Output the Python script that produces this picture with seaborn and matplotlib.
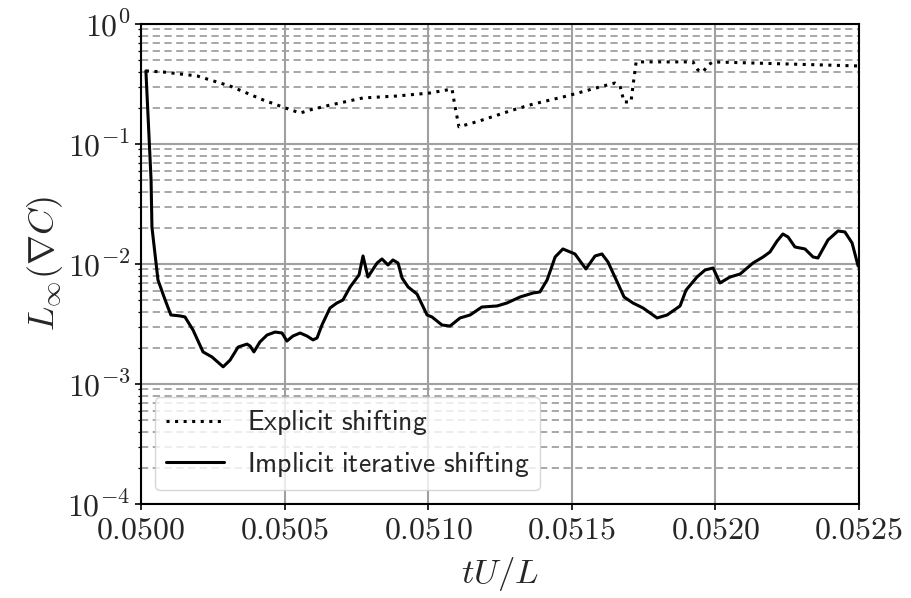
import numpy as np
import pandas as pd
import matplotlib
matplotlib.use("Agg")
import matplotlib.pyplot as plt
import seaborn as sns
from matplotlib.ticker import LogLocator, NullFormatter, FixedLocator

# Explicit shifting: max gradient norm vs. time
t_explicit = [0.050017, 0.050077, 0.050195, 0.050310, 0.050425, 0.050494, 0.050554,
              0.050588, 0.050658, 0.050773, 0.050891, 0.051006, 0.051083, 0.051093,
              0.051107, 0.051180, 0.051295, 0.051365, 0.051483, 0.051598, 0.051650,
              0.051668, 0.051682, 0.051706, 0.051713, 0.051724, 0.051922, 0.051939,
              0.051957, 0.051974, 0.051992, 0.052497, 0.052500]
linf_explicit = [0.406, 0.398, 0.369, 0.304, 0.233, 0.203, 0.181,
                 0.192, 0.211, 0.242, 0.251, 0.266, 0.287, 0.207,
                 0.139, 0.156, 0.192, 0.215, 0.251, 0.299, 0.322,
                 0.304, 0.224, 0.224, 0.304, 0.483, 0.483, 0.414,
                 0.398, 0.455, 0.483, 0.447, 0.447]

# Implicit iterative shifting
t_implicit = [0.050017, 0.050035, 0.050038, 0.050059, 0.050084, 0.050104, 0.050136,
              0.050153, 0.050181, 0.050216, 0.050247, 0.050286, 0.050310, 0.050338,
              0.050369, 0.050380, 0.050393, 0.050414, 0.050439, 0.050467, 0.050491,
              0.050508, 0.050529, 0.050554, 0.050578, 0.050599, 0.050613, 0.050630,
              0.050658, 0.050682, 0.050703, 0.050728, 0.050759, 0.050773, 0.050790,
              0.050822, 0.050839, 0.050860, 0.050877, 0.050895, 0.050909, 0.050930,
              0.050961, 0.050996, 0.051013, 0.051048, 0.051076, 0.051111, 0.051146,
              0.051187, 0.051240, 0.051274, 0.051320, 0.051365, 0.051389, 0.051414,
              0.051442, 0.051469, 0.051511, 0.051549, 0.051581, 0.051605, 0.051626,
              0.051650, 0.051682, 0.051713, 0.051748, 0.051797, 0.051832, 0.051877,
              0.051898, 0.051936, 0.051964, 0.051992, 0.052016, 0.052051, 0.052086,
              0.052131, 0.052166, 0.052190, 0.052215, 0.052235, 0.052253, 0.052277,
              0.052312, 0.052340, 0.052357, 0.052392, 0.052427, 0.052451, 0.052476,
              0.052497]
linf_implicit = [0.406, 0.0501, 0.0203, 0.00736, 0.00501, 0.00376, 0.00369,
                 0.00362, 0.00282, 0.00185, 0.00168, 0.00139, 0.00158, 0.00203,
                 0.00215, 0.00207, 0.00185, 0.00224, 0.00256, 0.00271, 0.00266,
                 0.00228, 0.00251, 0.00266, 0.00251, 0.00233, 0.00242, 0.00310,
                 0.00430, 0.00473, 0.00501, 0.00643, 0.00810, 0.01166, 0.00779,
                 0.01019, 0.01101, 0.00981, 0.01080, 0.01019, 0.00764, 0.00643,
                 0.00562, 0.00376, 0.00362, 0.00310, 0.00304, 0.00355, 0.00376,
                 0.00438, 0.00447, 0.00473, 0.00531, 0.00573, 0.00585, 0.00736,
                 0.01144, 0.01334, 0.01212, 0.00909, 0.01166, 0.01212, 0.01039,
                 0.00779, 0.00531, 0.00473, 0.00430, 0.00355, 0.00376, 0.00447,
                 0.00607, 0.00779, 0.00891, 0.00926, 0.00695, 0.00779, 0.00825,
                 0.01019, 0.01144, 0.01259, 0.01555, 0.01778, 0.01679, 0.01386,
                 0.01334, 0.01144, 0.01122, 0.01585, 0.01884, 0.01848, 0.01496,
                 0.00962]

x_ticks = [0.0500, 0.0505, 0.0510, 0.0515, 0.0520, 0.0525]
y_ticks = [1e-4, 1e-3, 1e-2, 1e-1, 1e0]
y_tick_labels = [r"$10^{-4}$", r"$10^{-3}$", r"$10^{-2}$", r"$10^{-1}$", r"$10^{0}$"]

sns.set_style("white")
plt.rcParams["mathtext.fontset"] = "cm"
plt.rcParams["font.family"] = ["DejaVu Sans"]

fig = plt.figure(figsize=(9.11, 5.98), dpi=100)
ax = fig.add_axes([0.1548, 0.1572, 0.7881, 0.8027])

sns.lineplot(x=t_explicit, y=linf_explicit, ax=ax, color="black", lw=2.2,
             linestyle=(0, (1, 1.8)), label=r"$\mathsf{Explicit\ shifting}$",
             estimator=None, sort=False)
sns.lineplot(x=t_implicit, y=linf_implicit, ax=ax, color="black", lw=2.2,
             label=r"$\mathsf{Implicit\ iterative\ shifting}$",
             estimator=None, sort=False)

ax.set_yscale("log")
ax.set_ylim(1e-4, 1e0)
ax.set_xlim(0.0500, 0.0525)

ax.yaxis.set_minor_locator(LogLocator(base=10, subs=np.arange(2, 10), numticks=20))
ax.yaxis.set_minor_formatter(NullFormatter())
ax.set_yticks(y_ticks)
ax.set_yticklabels(y_tick_labels)
ax.xaxis.set_major_locator(FixedLocator(x_ticks))
ax.set_xticklabels([r"$%.4f$" % v for v in x_ticks])

ax.grid(which="major", axis="both", color="#a0a0a0", linestyle="-", linewidth=1.5)
ax.grid(which="minor", axis="y", color="#a0a0a0", linestyle=(0, (4, 2.5)), linewidth=1.3)

ax.tick_params(axis="both", which="major", labelsize=23, direction="out",
               length=4, width=1.2, color="black", left=True, bottom=True)
ax.tick_params(axis="y", which="minor", direction="out", length=2.5, width=0.9,
               color="black", left=True)
for s in ax.spines.values():
    s.set_color("black")
    s.set_linewidth(1.5)

ax.set_xlabel(r"$tU/L$", fontsize=25, labelpad=7)
ax.set_ylabel(r"$L_\infty(\nabla C)$", fontsize=26, labelpad=2)

leg = ax.legend(loc="lower left", fontsize=20, frameon=True, fancybox=True,
                framealpha=0.8, edgecolor="#cccccc", handlelength=2.1,
                labelspacing=0.45, borderaxespad=0.5)

fig.savefig("out.png", dpi=100)
